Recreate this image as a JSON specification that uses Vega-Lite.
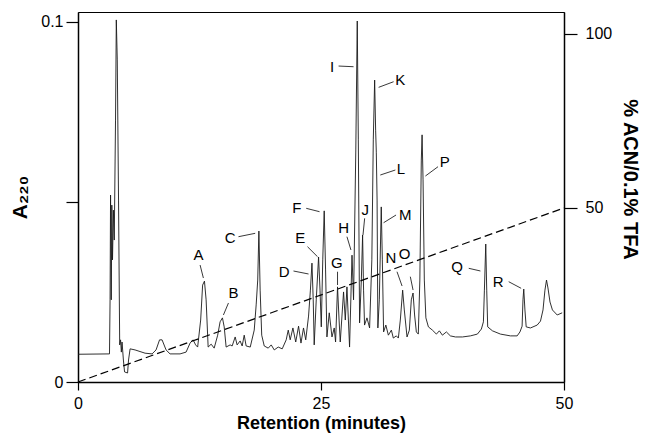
{
  "$schema": "https://vega.github.io/schema/vega-lite/v6.json",
  "width": 486,
  "height": 370,
  "autosize": {"type": "none"},
  "padding": {"left": 78, "top": 12, "right": 81, "bottom": 59},
  "background": "white",
  "config": {
    "view": {"stroke": "black", "strokeWidth": 1},
    "axis": {"grid": false, "labelFont": "Liberation Sans", "titleFont": "Liberation Sans", "labelColor": "black", "titleColor": "black", "tickColor": "black", "domainColor": "black", "domainWidth": 1.5, "tickWidth": 1.2, "labelFontSize": 16}
  },
  "datasets": {
    "trace": [
      {"t":0,"A":0.0077},{"t":3.24,"A":0.0078},{"t":3.30,"A":0.0228},{"t":3.35,"A":0.0519},{"t":3.42,"A":0.0228},{"t":3.48,"A":0.0491},{"t":3.55,"A":0.0339},{"t":3.64,"A":0.0477},{"t":3.73,"A":0.0394},{"t":3.86,"A":0.0727},{"t":3.94,"A":0.1005},{"t":4.04,"A":0.0894},{"t":4.17,"A":0.0505},{"t":4.29,"A":0.0103},{"t":4.38,"A":0.0117},{"t":4.46,"A":0.0083},{"t":4.53,"A":0.0111},{"t":4.67,"A":0.0061},{"t":4.79,"A":0.0028},{"t":5.10,"A":0.0025},{"t":5.20,"A":0.0061},{"t":5.36,"A":0.0092},{"t":5.87,"A":0.0089},{"t":6.90,"A":0.0080},{"t":7.62,"A":0.0078},{"t":8.03,"A":0.0089},{"t":8.39,"A":0.0117},{"t":8.65,"A":0.0117},{"t":9.06,"A":0.0089},{"t":9.47,"A":0.0078},{"t":10.50,"A":0.0078},{"t":11.12,"A":0.0083},{"t":11.53,"A":0.0108},{"t":11.84,"A":0.0117},{"t":12.10,"A":0.0103},{"t":12.31,"A":0.0097},{"t":12.62,"A":0.0172},{"t":12.82,"A":0.0269},{"t":13.01,"A":0.0280},{"t":13.18,"A":0.0228},{"t":13.39,"A":0.0097},{"t":13.70,"A":0.0105},{"t":14.01,"A":0.0094},{"t":14.37,"A":0.0130},{"t":14.62,"A":0.0167},{"t":14.86,"A":0.0178},{"t":15.04,"A":0.0153},{"t":15.24,"A":0.0097},{"t":15.65,"A":0.0103},{"t":15.86,"A":0.0100},{"t":16.17,"A":0.0125},{"t":16.37,"A":0.0103},{"t":16.68,"A":0.0114},{"t":16.89,"A":0.0100},{"t":17.10,"A":0.0130},{"t":17.30,"A":0.0100},{"t":17.72,"A":0.0097},{"t":18.13,"A":0.0144},{"t":18.33,"A":0.0214},{"t":18.49,"A":0.0283},{"t":18.61,"A":0.0419},{"t":18.74,"A":0.0255},{"t":18.90,"A":0.0130},{"t":19.16,"A":0.0100},{"t":19.57,"A":0.0094},{"t":19.88,"A":0.0103},{"t":20.19,"A":0.0089},{"t":20.60,"A":0.0097},{"t":21.01,"A":0.0092},{"t":21.42,"A":0.0117},{"t":21.63,"A":0.0144},{"t":21.83,"A":0.0117},{"t":22.11,"A":0.0150},{"t":22.40,"A":0.0111},{"t":22.69,"A":0.0155},{"t":22.94,"A":0.0108},{"t":23.20,"A":0.0150},{"t":23.43,"A":0.0117},{"t":23.72,"A":0.0183},{"t":23.91,"A":0.0255},{"t":24.07,"A":0.0330},{"t":24.20,"A":0.0228},{"t":24.30,"A":0.0103},{"t":24.51,"A":0.0228},{"t":24.75,"A":0.0347},{"t":24.90,"A":0.0255},{"t":25.03,"A":0.0153},{"t":25.18,"A":0.0339},{"t":25.33,"A":0.0475},{"t":25.47,"A":0.0311},{"t":25.61,"A":0.0125},{"t":25.85,"A":0.0192},{"t":26.13,"A":0.0125},{"t":26.36,"A":0.0150},{"t":26.50,"A":0.0111},{"t":26.70,"A":0.0264},{"t":26.86,"A":0.0172},{"t":26.98,"A":0.0111},{"t":27.32,"A":0.0250},{"t":27.50,"A":0.0172},{"t":27.67,"A":0.0264},{"t":27.94,"A":0.0097},{"t":28.19,"A":0.0352},{"t":28.35,"A":0.0228},{"t":28.58,"A":0.0644},{"t":28.73,"A":0.1002},{"t":28.84,"A":0.0672},{"t":28.97,"A":0.0164},{"t":29.15,"A":0.0283},{"t":29.28,"A":0.0408},{"t":29.38,"A":0.0255},{"t":29.48,"A":0.0158},{"t":29.73,"A":0.0178},{"t":30.00,"A":0.0150},{"t":30.23,"A":0.0339},{"t":30.38,"A":0.0672},{"t":30.52,"A":0.0838},{"t":30.62,"A":0.0699},{"t":30.69,"A":0.0638},{"t":30.77,"A":0.0505},{"t":30.85,"A":0.0150},{"t":31.00,"A":0.0228},{"t":31.20,"A":0.0486},{"t":31.31,"A":0.0339},{"t":31.44,"A":0.0139},{"t":31.67,"A":0.0158},{"t":31.93,"A":0.0130},{"t":32.24,"A":0.0144},{"t":32.44,"A":0.0122},{"t":32.75,"A":0.0128},{"t":32.96,"A":0.0122},{"t":33.16,"A":0.0172},{"t":33.40,"A":0.0255},{"t":33.57,"A":0.0200},{"t":33.85,"A":0.0125},{"t":34.09,"A":0.0144},{"t":34.29,"A":0.0228},{"t":34.47,"A":0.0247},{"t":34.63,"A":0.0186},{"t":34.81,"A":0.0139},{"t":35.01,"A":0.0133},{"t":35.17,"A":0.0283},{"t":35.32,"A":0.0616},{"t":35.40,"A":0.0686},{"t":35.50,"A":0.0561},{"t":35.63,"A":0.0283},{"t":35.79,"A":0.0178},{"t":36.05,"A":0.0153},{"t":36.46,"A":0.0144},{"t":36.87,"A":0.0133},{"t":37.18,"A":0.0142},{"t":37.49,"A":0.0130},{"t":37.90,"A":0.0139},{"t":38.31,"A":0.0128},{"t":38.83,"A":0.0125},{"t":39.55,"A":0.0125},{"t":40.37,"A":0.0128},{"t":41.09,"A":0.0133},{"t":41.50,"A":0.0147},{"t":41.71,"A":0.0167},{"t":41.81,"A":0.0255},{"t":41.95,"A":0.0383},{"t":42.05,"A":0.0255},{"t":42.15,"A":0.0153},{"t":42.64,"A":0.0142},{"t":43.46,"A":0.0133},{"t":44.49,"A":0.0128},{"t":45.18,"A":0.0128},{"t":45.47,"A":0.0139},{"t":45.69,"A":0.0155},{"t":45.78,"A":0.0228},{"t":45.86,"A":0.0258},{"t":45.98,"A":0.0200},{"t":46.11,"A":0.0153},{"t":46.55,"A":0.0150},{"t":47.24,"A":0.0158},{"t":47.58,"A":0.0169},{"t":47.84,"A":0.0200},{"t":48.04,"A":0.0255},{"t":48.20,"A":0.0283},{"t":48.35,"A":0.0261},{"t":48.56,"A":0.0222},{"t":48.81,"A":0.0200},{"t":49.30,"A":0.0186},{"t":49.81,"A":0.0192}
    ],
    "grad": [{"t": 0, "pct": 0}, {"t": 50, "pct": 50}],
    "labels": [
      {"name":"A","t":12.39,"A":0.03525},{"name":"B","t":15.99,"A":0.02478},{"name":"C","t":15.65,"A":0.03988},{"name":"D","t":21.22,"A":0.03061},{"name":"E","t":22.86,"A":0.03988},{"name":"F","t":22.52,"A":0.04821},{"name":"G","t":26.64,"A":0.03311},{"name":"H","t":27.32,"A":0.04283},{"name":"I","t":26.13,"A":0.08751},{"name":"J","t":29.56,"A":0.04774},{"name":"K","t":33.16,"A":0.08382},{"name":"L","t":33.23,"A":0.05912},{"name":"M","t":33.68,"A":0.04635},{"name":"N","t":32.20,"A":0.03433},{"name":"O","t":33.60,"A":0.03553},{"name":"P","t":37.72,"A":0.06114},{"name":"Q","t":39.0,"A":0.0320},{"name":"R","t":43.22,"A":0.02784}
    ],
    "arrows": [
      {"name":"A","t1":12.56,"A1":0.03247,"t2":12.90,"A2":0.02886},
      {"name":"B","t1":15.48,"A1":0.02193,"t2":14.96,"A2":0.01860},
      {"name":"C","t1":16.51,"A1":0.04033,"t2":18.23,"A2":0.04127},
      {"name":"D","t1":22.17,"A1":0.03081,"t2":23.72,"A2":0.02998},
      {"name":"E","t1":23.61,"A1":0.03755,"t2":24.64,"A2":0.03478},
      {"name":"F","t1":23.48,"A1":0.04821,"t2":24.85,"A2":0.04727},
      {"name":"G","t1":26.70,"A1":0.03061,"t2":26.70,"A2":0.02692},
      {"name":"H","t1":27.67,"A1":0.04033,"t2":28.08,"A2":0.03664},
      {"name":"I","t1":26.81,"A1":0.0877,"t2":28.35,"A2":0.08751},
      {"name":"J","t1":29.49,"A1":0.04543,"t2":29.32,"A2":0.0408},
      {"name":"K","t1":32.47,"A1":0.08335,"t2":30.93,"A2":0.08179},
      {"name":"L","t1":32.65,"A1":0.05884,"t2":31.10,"A2":0.05745},
      {"name":"M","t1":32.72,"A1":0.04635,"t2":31.44,"A2":0.04421},
      {"name":"N","t1":32.82,"A1":0.03061,"t2":33.34,"A2":0.02664},
      {"name":"O","t1":34.19,"A1":0.02923,"t2":34.47,"A2":0.02553},
      {"name":"P","t1":37.04,"A1":0.05976,"t2":35.74,"A2":0.05717},
      {"name":"Q","t1":40.20,"A1":0.03156,"t2":41.40,"A2":0.03081},
      {"name":"R","t1":44.31,"A1":0.02784,"t2":45.59,"A2":0.02601}
    ]
  },
  "layer": [
    {
      "data": {"name": "trace"},
      "mark": {"type": "line", "stroke": "#1a1a1a", "strokeWidth": 0.9, "clip": true},
      "encoding": {
        "x": {"field": "t", "type": "quantitative", "scale": {"domain": [0, 50], "nice": false},
          "axis": {"values": [0, 25, 50], "title": "Retention (minutes)", "titleFontSize": 18, "titleFontWeight": "bold", "tickSize": 8, "labelPadding": 5, "titlePadding": 3, "labelFlush": false}},
        "y": {"field": "A", "type": "quantitative", "scale": {"domain": [0, 0.1027], "nice": false, "zero": false},
          "axis": {"orient": "left", "values": [0, 0.05, 0.1], "labelExpr": "datum.value == 0.05 ? '' : format(datum.value, '~g')", "title": "A₂₂₀", "titleFontSize": 21, "titleFontWeight": "bold", "tickSize": 12, "labelPadding": 3, "titlePadding": 10, "labelFlush": false}}
      }
    },
    {
      "data": {"name": "grad"},
      "mark": {"type": "line", "stroke": "black", "strokeWidth": 1.2, "strokeDash": [8, 4]},
      "encoding": {
        "x": {"field": "t", "type": "quantitative", "scale": {"domain": [0, 50], "nice": false}},
        "y": {"field": "pct", "type": "quantitative", "scale": {"domain": [0, 106.3], "nice": false, "zero": false},
          "axis": {"orient": "right", "values": [50, 100], "title": "% ACN/0.1% TFA", "titleFontSize": 20, "titleFontWeight": "bold", "tickSize": 13, "labelPadding": 8, "titlePadding": 8, "titleY": 167, "labelFlush": false}}
      }
    },
    {
      "data": {"name": "arrows"},
      "mark": {"type": "rule", "stroke": "#222", "strokeWidth": 0.9},
      "encoding": {
        "x": {"field": "t1", "type": "quantitative", "scale": {"domain": [0, 50], "nice": false}},
        "x2": {"field": "t2"},
        "y": {"field": "A1", "type": "quantitative", "scale": {"domain": [0, 0.1027], "nice": false, "zero": false}, "axis": null},
        "y2": {"field": "A2"}
      }
    },
    {
      "data": {"name": "labels"},
      "mark": {"type": "text", "font": "Liberation Sans", "fontSize": 15, "color": "black", "align": "center", "baseline": "middle"},
      "encoding": {
        "x": {"field": "t", "type": "quantitative", "scale": {"domain": [0, 50], "nice": false}},
        "y": {"field": "A", "type": "quantitative", "scale": {"domain": [0, 0.1027], "nice": false, "zero": false}, "axis": null},
        "text": {"field": "name"}
      }
    }
  ],
  "resolve": {"scale": {"y": "independent"}}
}
